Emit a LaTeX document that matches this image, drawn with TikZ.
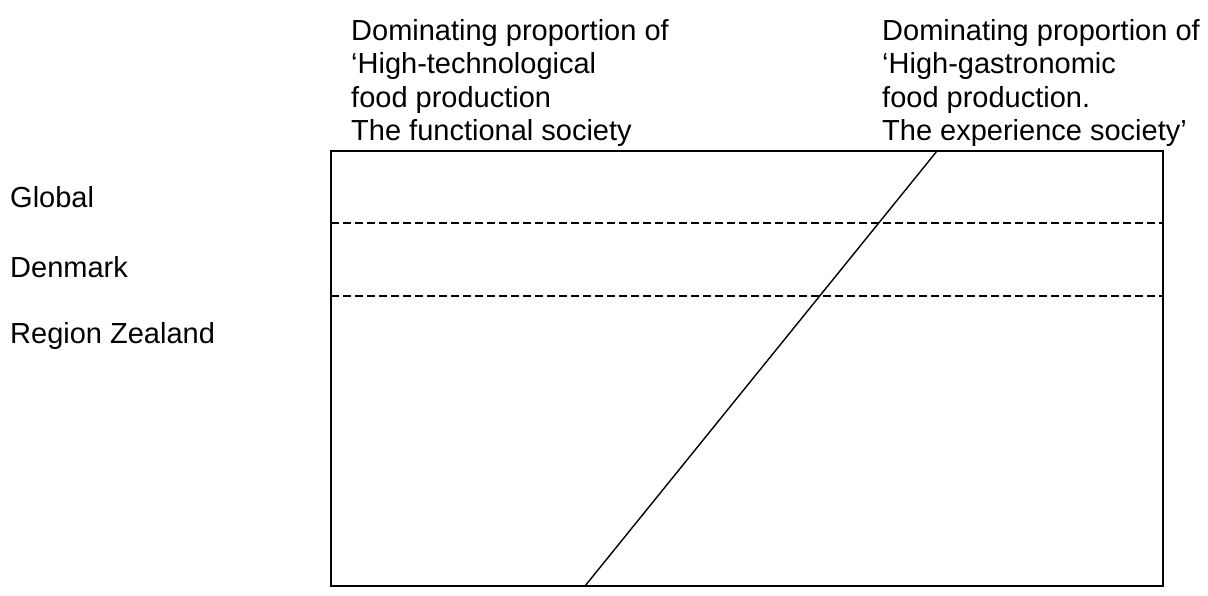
\documentclass[tikz,border=0pt]{standalone}
\usepackage{fontspec}
\setmainfont{Liberation Sans}
\begin{document}
\begin{tikzpicture}[x=1pt,y=-1pt,
  lbl/.style={inner sep=0pt,anchor=base west,align=left,font=\fontsize{29}{33.4}\selectfont},
  frame/.style={draw=black,line width=1.4pt},
  divider/.style={draw=black,line width=1.4pt,dash pattern=on 7.5pt off 4.5pt}]
\useasboundingbox (0,0) rectangle (1208,596);
\node[lbl] (colA) at (351,140.5) {Dominating proportion of\\‘High-technological\\food production\\The functional society};
\node[lbl] (colB) at (882,140.5) {Dominating proportion of\\‘High-gastronomic\\food production.\\The experience society’};
\node[lbl] (global) at (10,208) {Global};
\node[lbl] (denmark) at (10,277) {Denmark};
\node[lbl] (zealand) at (10,343) {Region Zealand};
\coordinate (tl) at (331,151);
\coordinate (br) at (1163,586);
\coordinate (d1l) at (331,223);
\coordinate (d1r) at (1163,223);
\coordinate (d2l) at (331,296);
\coordinate (d2r) at (1163,296);
\coordinate (diagtop) at (937,151);
\coordinate (diagbot) at (585,586);
\draw[divider] (d1l) -- (d1r);
\draw[divider] (d2l) -- (d2r);
\draw[frame] (tl) rectangle (br);
\draw[frame] (diagbot) -- (diagtop);
\end{tikzpicture}
\end{document}
